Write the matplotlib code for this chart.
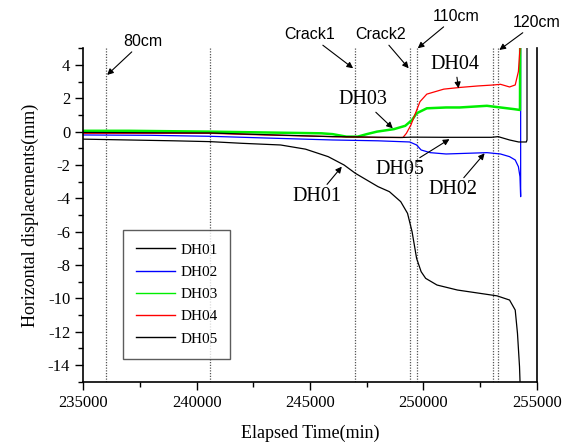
import matplotlib
matplotlib.use("Agg")
from matplotlib import pyplot as plt
from matplotlib.ticker import MultipleLocator

plt.rcParams["font.family"] = ["Liberation Serif", "DejaVu Serif"]
plt.rcParams["axes.unicode_minus"] = False

# keypoints (time in min, displacement in mm)
t_dh01 = [235000, 237000, 239000, 240600, 242000, 243700, 244800, 245800, 246500, 247000,
          247500, 248000, 248500, 249000, 249300, 249500, 249700, 249900, 250100, 250600,
          251500, 252500, 253250, 253800, 254050, 254150, 254240, 254270]
v_dh01 = [-0.45, -0.5, -0.55, -0.6, -0.7, -0.8, -1.05, -1.5, -2.0, -2.5,
          -2.9, -3.3, -3.6, -4.2, -4.9, -6.0, -7.6, -8.4, -8.8, -9.2,
          -9.5, -9.7, -9.85, -10.1, -10.7, -12.1, -14.1, -15.3]

t_dh02 = [235000, 238000, 240600, 243000, 246000, 248000, 249400, 249700, 249900, 250300,
          251000, 251900, 252800, 253400, 253800, 254050, 254190, 254260, 254290, 254290]
v_dh02 = [-0.2, -0.22, -0.28, -0.38, -0.5, -0.55, -0.62, -0.8, -1.1, -1.26,
          -1.34, -1.3, -1.26, -1.34, -1.5, -1.7, -2.1, -2.7, -3.9, 5.5]

t_dh03 = [235000, 237000, 240600, 243000, 245500, 246000, 246600, 247100, 247500, 247950,
          248700, 249200, 249500, 249700, 250150, 251000, 251600, 252800, 253400, 254000,
          254260, 254270]
v_dh03 = [0.05, 0.05, 0.0, -0.05, -0.1, -0.15, -0.3, -0.3, -0.15, 0.0,
          0.15, 0.35, 0.7, 1.1, 1.4, 1.45, 1.45, 1.55, 1.45, 1.35,
          1.3, 5.5]

t_dh04 = [235000, 240600, 243000, 246000, 248000, 249100, 249250, 249450, 249650, 249850,
          250150, 250900, 251600, 252400, 253100, 253400, 253800, 254050, 254190, 254260,
          254300]
v_dh04 = [-0.1, -0.1, -0.2, -0.3, -0.35, -0.35, -0.1, 0.4, 1.1, 1.8,
          2.25, 2.55, 2.65, 2.74, 2.8, 2.84, 2.68, 2.8, 3.6, 5.0,
          5.5]

t_dh05 = [235000, 240600, 243000, 246000, 249000, 249500, 251000, 253000, 253300, 253800,
          254200, 254540, 254570, 254570]
v_dh05 = [-0.05, -0.08, -0.18, -0.3, -0.35, -0.33, -0.34, -0.34, -0.3, -0.5,
          -0.62, -0.62, -0.5, 5.5]

event_times = [236000, 240600, 247000, 249400, 249700, 253050, 253300]

fig = plt.figure(figsize=(5.65, 4.45), dpi=100)
ax = fig.add_axes([0.1475, 0.1422, 0.8025, 0.7493])

for x in event_times:
    ax.axvline(x, color="#555555", ls=(0, (1, 1.2)), lw=0.9, zorder=1)

ax.plot(t_dh01, v_dh01, color="black", lw=0.9, label="DH01")
ax.plot(t_dh02, v_dh02, color="#0000ff", lw=0.9, label="DH02")
ax.plot(t_dh03, v_dh03, color="#00ee00", lw=1.8, label="DH03")
ax.plot(t_dh04, v_dh04, color="#ff0000", lw=0.9, label="DH04")
ax.plot(t_dh05, v_dh05, color="black", lw=0.9, label="DH05")

ax.set_xlim(235000, 255000)
ax.set_ylim(-15, 5)
ax.xaxis.set_major_locator(MultipleLocator(5000))
ax.xaxis.set_minor_locator(MultipleLocator(2500))
ax.yaxis.set_major_locator(MultipleLocator(2))
ax.yaxis.set_minor_locator(MultipleLocator(1))
ax.tick_params(which="major", direction="out", length=6, width=1, labelsize=12)
ax.tick_params(which="minor", direction="out", length=3.5, width=1)
ax.tick_params(right=False, top=False)
ax.spines["top"].set_visible(False)
for s in ["left", "bottom", "right"]:
    ax.spines[s].set_linewidth(1.2)

ax.set_xlabel("Elapsed Time(min)", fontsize=13, labelpad=10)
ax.set_ylabel("Horizontal displacements(mm)", fontsize=13, labelpad=6)

arrow = dict(arrowstyle="-|>", color="black", lw=0.8, mutation_scale=9, shrinkA=0, shrinkB=0)
sans = dict(family="Liberation Sans", fontsize=11.5, ha="center", va="center")
serif = dict(family="Liberation Serif", fontsize=14.5, ha="center", va="center")

ax.annotate("80cm", xy=(236050, 3.4), xytext=(237620, 5.4), arrowprops=arrow,
            annotation_clip=False, **sans)
ax.annotate("Crack1", xy=(246900, 3.8), xytext=(244970, 5.8), arrowprops=arrow,
            annotation_clip=False, **sans)
ax.annotate("Crack2", xy=(249350, 3.8), xytext=(248090, 5.8), arrowprops=arrow,
            annotation_clip=False, **sans)
ax.annotate("110cm", xy=(249750, 5.0), xytext=(251440, 6.9), arrowprops=arrow,
            annotation_clip=False, **sans)
ax.annotate("120cm", xy=(253350, 4.9), xytext=(255000, 6.55), arrowprops=arrow,
            annotation_clip=False, **sans)

ax.annotate("DH04", xy=(251550, 2.6), xytext=(251400, 4.0), arrowprops=arrow, **serif)
ax.annotate("DH03", xy=(248650, 0.2), xytext=(247330, 1.9), arrowprops=arrow, **serif)
ax.annotate("DH05", xy=(251150, -0.45), xytext=(248970, -2.3), arrowprops=arrow, **serif)
ax.annotate("DH02", xy=(252700, -1.3), xytext=(251320, -3.5), arrowprops=arrow, **serif)
ax.annotate("DH01", xy=(246400, -2.1), xytext=(245300, -3.9), arrowprops=arrow, **serif)

leg = ax.legend(loc="upper left", bbox_to_anchor=(0.087, 0.455), borderaxespad=0,
                prop={"family": "Liberation Serif", "size": 11}, frameon=True,
                fancybox=False, edgecolor="#333333", handlelength=2.6,
                labelspacing=0.56, borderpad=0.85, handletextpad=0.3)
leg.get_frame().set_linewidth(1.0)
for h in leg.get_lines():
    h.set_linewidth(1.0)

fig.savefig("out.png", dpi=100)
